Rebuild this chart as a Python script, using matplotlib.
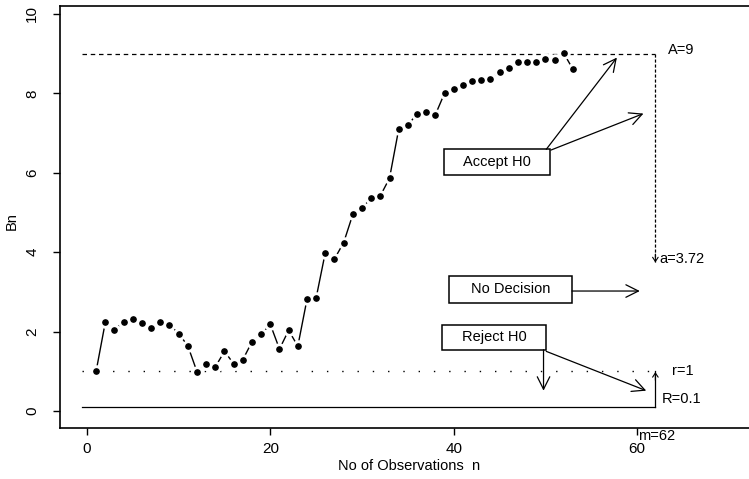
import numpy as np
import matplotlib
matplotlib.use("Agg")
import matplotlib.pyplot as plt
from matplotlib.patches import Rectangle

plt.rcParams['font.family'] = ['Liberation Sans', 'DejaVu Sans']

# valeurs
n_obs = np.arange(1, 54)
Bn = [1.00, 2.23, 2.05, 2.24, 2.32, 2.22, 2.10, 2.24, 2.17, 1.95,
      1.64, 0.99, 1.18, 1.11, 1.50, 1.19, 1.29, 1.74, 1.93, 2.18,
      1.56, 2.03, 1.63, 2.81, 2.85, 3.99, 3.83, 4.24, 4.95, 5.11,
      5.36, 5.42, 5.86, 7.09, 7.19, 7.49, 7.54, 7.46, 8.00, 8.10,
      8.20, 8.30, 8.33, 8.35, 8.54, 8.64, 8.78, 8.80, 8.80, 8.87,
      8.85, 9.01, 8.61]

A_lim = 9
a_lim = 3.72
r_lim = 1
R_lim = 0.1
m_max = 62

fig = plt.figure(figsize=(7.49, 4.79), dpi=100)
ax = fig.add_axes([0.0801, 0.1065, 0.932, 0.881])
ax.set_xlim(-2.94, 73.2)
ax.set_ylim(-0.43, 10.2)

# serie type "b" de R : lignes coupees autour des points
ax.plot(n_obs, Bn, color='black', lw=1.0, zorder=2)
ax.plot(n_obs, Bn, 'o', color='white', ms=8, zorder=3)
ax.plot(n_obs, Bn, 'o', color='black', ms=3.8, zorder=4)

# limites
x0 = -0.5
ax.plot([x0, m_max], [A_lim, A_lim], color='black', lw=0.9, dashes=(3.6, 3.0))
ax.plot([m_max, m_max], [A_lim, a_lim], color='black', lw=0.9, dashes=(2.5, 1.5))
ax.plot([x0, m_max], [r_lim, r_lim], color='black', lw=1.0, dashes=(1, 10))
ax.plot([x0, m_max], [R_lim, R_lim], color='black', lw=0.9)
ax.plot([m_max, m_max], [R_lim, r_lim], color='black', lw=0.9)

small = dict(arrowstyle='->,head_length=0.3,head_width=0.2', color='black', lw=0.8)
ax.annotate('', xy=(m_max, a_lim - 0.05), xytext=(m_max, a_lim + 0.3), arrowprops=small)
ax.annotate('', xy=(m_max, r_lim + 0.05), xytext=(m_max, r_lim - 0.3), arrowprops=small)

ax.text(63.4, 9.1, 'A=9', fontsize=10.5, va='center', ha='left')
ax.text(62.4, 3.83, 'a=3.72', fontsize=10.5, va='center', ha='left')
ax.text(63.8, 1.0, 'r=1', fontsize=10.5, va='center', ha='left')
ax.text(62.7, 0.3, 'R=0.1', fontsize=10.5, va='center', ha='left')
ax.text(60.1, -0.62, 'm=62', fontsize=10.5, va='center', ha='left', clip_on=False)

# boites de decision
big = dict(arrowstyle='->,head_length=0.9,head_width=0.45', color='black', lw=0.9,
           shrinkA=0, shrinkB=0)

boxes = [
    ('Accept H0', 38.96, 5.95, 11.54, 0.64),
    ('No Decision', 39.5, 2.73, 13.4, 0.67),
    ('Reject H0', 38.7, 1.54, 11.4, 0.62),
]
for label, bx, by, bw, bh in boxes:
    ax.add_patch(Rectangle((bx, by), bw, bh, fill=False, ec='black', lw=1.1, zorder=5))
    ax.text(bx + bw / 2, by + bh / 2, label, fontsize=10.5, ha='center', va='center', zorder=6)

ax.annotate('', xy=(57.8, 8.9), xytext=(50.1, 6.59), arrowprops=big)
ax.annotate('', xy=(60.7, 7.49), xytext=(50.6, 6.57), arrowprops=big)
ax.annotate('', xy=(60.3, 3.02), xytext=(52.9, 3.02), arrowprops=big)
ax.annotate('', xy=(49.8, 0.51), xytext=(49.8, 1.54), arrowprops=big)
ax.annotate('', xy=(61.0, 0.51), xytext=(50.1, 1.50), arrowprops=big)

# axes
ax.spines['right'].set_visible(False)
for s in ['left', 'bottom', 'top']:
    ax.spines[s].set_linewidth(1.2)
ax.set_xticks([0, 20, 40, 60])
ax.set_yticks([0, 2, 4, 6, 8, 10])
ax.tick_params(direction='out', length=5, width=1, labelsize=11, pad=5)
ax.tick_params(axis='y', pad=10)
for lbl in ax.get_yticklabels():
    lbl.set_rotation(90)
    lbl.set_va('center')
ax.set_xlabel('No of Observations  n', fontsize=10.5)
ax.set_ylabel('Bn', fontsize=10.5)
ax.xaxis.set_label_coords(0.5, -0.09)
ax.xaxis.label.set_va('center')
ax.yaxis.set_label_coords(-0.069, 0.49)
ax.yaxis.label.set_va('center')

fig.savefig('out.png', dpi=100)
